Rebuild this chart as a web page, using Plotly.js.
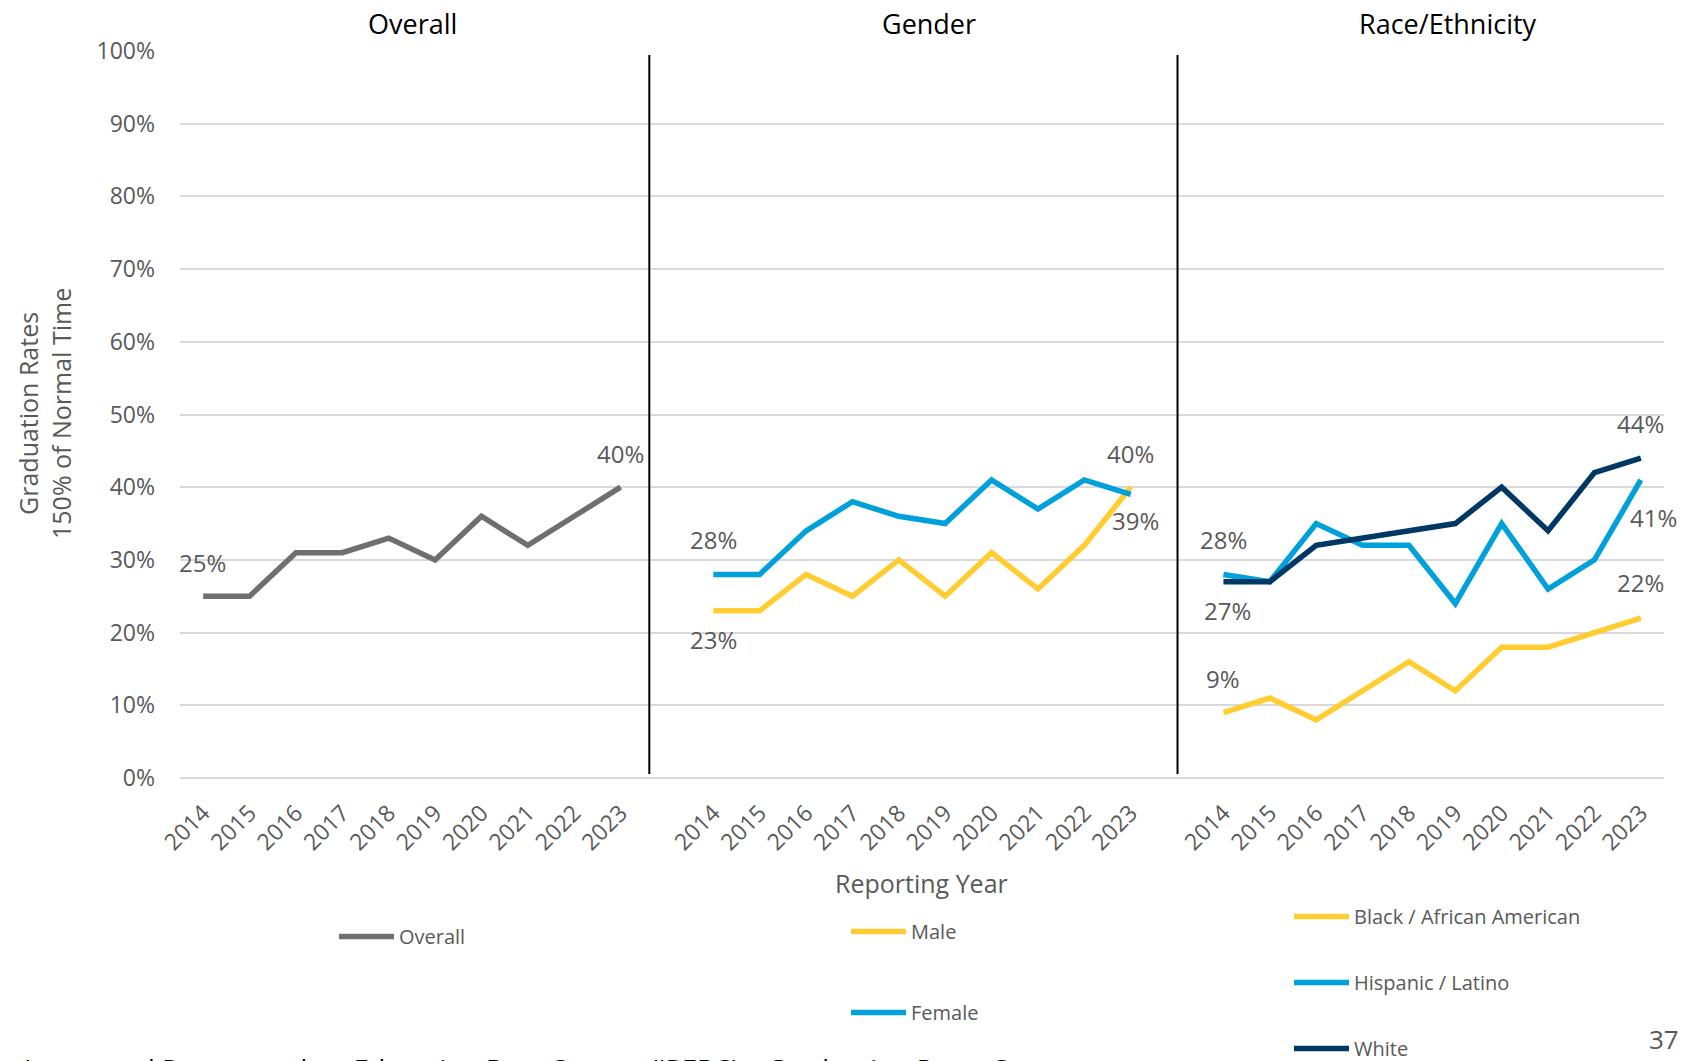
<!DOCTYPE html>
<html><head><meta charset="utf-8">
<script src="https://cdn.plot.ly/plotly-3.0.1.min.js"></script>
<style>html,body{margin:0;padding:0;background:#fff;} #chart{width:1683px;height:1061px;}</style>
</head><body><div id="chart"></div>
<script>
// ---- data ----
const years = [2014, 2015, 2016, 2017, 2018, 2019, 2020, 2021, 2022, 2023];
const overall  = [25, 25, 31, 31, 33, 30, 36, 32, 36, 40];
const male     = [23, 23, 28, 25, 30, 25, 31, 26, 32, 40];
const female   = [28, 28, 34, 38, 36, 35, 41, 37, 41, 39];
const black    = [9, 11, 8, 12, 16, 12, 18, 18, 20, 22];
const hispanic = [28, 27, 35, 32, 32, 24, 35, 26, 30, 41];
const white    = [27, 27, 32, 33, 34, 35, 40, 34, 42, 44];
const panelTitles = ['Overall', 'Gender', 'Race/Ethnicity'];
const yTickVals = [0, 10, 20, 30, 40, 50, 60, 70, 80, 90, 100];
const yTickText = yTickVals.map(v => v + '%');

// ---- layout helpers ----
const W = 1683, H = 1061;
const L = 180, R = 1664, T = 51, B = 778;
const px2x = p => (p - L) / (R - L);
const px2y = p => (B - p) / (B - T);
const offsets = [0, 11, 22];
const xs = k => years.map((y, i) => offsets[k] + (y - years[0]));

const GREY = '#6f6f6f', YEL = '#ffcd32', BLUE = '#00a1da', NAVY = '#003865';
const TXT = '#595959';
const FONT = 'Open Sans, Noto Sans, sans-serif';

function tr(k, vals, name, color, legend) {
  return {x: xs(k), y: vals, type: 'scatter', mode: 'lines', name: name,
    line: {color: color, width: 5.5}, legend: legend, legendgroup: name, hoverinfo: 'skip'};
}
const traces = [
  tr(0, overall, 'Overall', GREY, 'legend'),
  tr(1, male, 'Male', YEL, 'legend2'),
  tr(1, female, 'Female', BLUE, 'legend2'),
  tr(2, black, 'Black / African American', YEL, 'legend3'),
  tr(2, hispanic, 'Hispanic / Latino', BLUE, 'legend3'),
  tr(2, white, 'White', NAVY, 'legend3')
];

const tickvals = [].concat(xs(0), xs(1), xs(2));
const ticktext = [].concat(years, years, years).map(String);

function lab(k, vals, idx, dy, dx) {
  return {x: xs(k)[idx], y: vals[idx], xref: 'x', yref: 'y', text: vals[idx] + '%',
    showarrow: false, yshift: dy, xshift: dx || 0, xanchor: 'center', yanchor: 'middle',
    font: {family: FONT, size: 24, color: TXT}};
}
const annotations = [
  lab(0, overall, 0, 34, -1), lab(0, overall, 9, 34),
  lab(1, female, 0, 35), lab(1, male, 0, -29), lab(1, male, 9, 34), lab(1, female, 9, -26, 5),
  lab(2, hispanic, 0, 35), lab(2, white, 0, -29, 4), lab(2, black, 0, 34),
  lab(2, white, 9, 35), lab(2, hispanic, 9, -38, 13), lab(2, black, 9, 36)
];
const titleX = [412, 929, 1448];
panelTitles.forEach((t, i) => annotations.push({
  x: px2x(titleX[i]), y: px2y(24), xref: 'paper', yref: 'paper', text: t, showarrow: false,
  xanchor: 'center', yanchor: 'middle', font: {family: FONT, size: 27, color: '#000'}}));
annotations.push({x: px2x(921), y: px2y(883), xref: 'paper', yref: 'paper', text: 'Reporting Year',
  showarrow: false, xanchor: 'center', yanchor: 'middle', font: {family: FONT, size: 25, color: TXT}});
annotations.push({x: px2x(44), y: px2y(414), xref: 'paper', yref: 'paper',
  text: 'Graduation Rates<br>150% of Normal Time', textangle: -90, showarrow: false,
  xanchor: 'center', yanchor: 'middle', font: {family: FONT, size: 25, color: TXT}});
annotations.push({x: px2x(22), y: px2y(1049), xref: 'paper', yref: 'paper',
  text: 'Integrated Postsecondary Education Data System (IPEDS) \u2013 Graduation Rates Survey',
  showarrow: false, xanchor: 'left', yanchor: 'top', font: {family: FONT, size: 27, color: '#000'}});
annotations.push({x: px2x(1681), y: px2y(1039), xref: 'paper', yref: 'paper', text: '37',
  showarrow: false, xanchor: 'right', yanchor: 'middle', font: {family: FONT, size: 26, color: TXT}});

const sepX = [9.62, 21.01];
const shapes = sepX.map(v => ({type: 'line', xref: 'x', yref: 'paper', x0: v, x1: v,
  y0: px2y(774), y1: px2y(55), line: {color: '#000', width: 2}}));

function leg(xp, yp, gap) {
  return {x: xp / W, y: 1 - yp / H, xref: 'container', yref: 'container',
    xanchor: 'left', yanchor: 'top', orientation: 'v',
    bgcolor: 'rgba(0,0,0,0)', borderwidth: 0, traceorder: 'grouped', tracegroupgap: gap,
    itemwidth: 55, font: {family: FONT, size: 20, color: TXT}};
}

const layout = {
  width: W, height: H,
  margin: {l: L, r: W - R, t: T, b: H - B, pad: 0, autoexpand: false},
  paper_bgcolor: '#fff', plot_bgcolor: '#fff',
  showlegend: true,
  xaxis: {range: [-0.5, 31.5], tickmode: 'array', tickvals: tickvals, ticktext: ticktext,
    tickangle: -45, showgrid: false, zeroline: false, showline: false, ticks: '',
    ticklabelstandoff: 16, automargin: false,
    tickfont: {family: FONT, size: 23, color: TXT}, fixedrange: true},
  yaxis: {range: [0, 100], tickmode: 'array', tickvals: yTickVals, ticktext: yTickText,
    showgrid: true, gridcolor: '#d9d9d9', gridwidth: 2, zeroline: true, zerolinecolor: '#d9d9d9',
    zerolinewidth: 2, showline: false, ticks: '', ticklabelstandoff: 24, automargin: false,
    tickfont: {family: FONT, size: 23, color: TXT}, fixedrange: true},
  legend: leg(334, 917, 10),
  legend2: leg(846, 912, 52),
  legend3: leg(1289, 897, 37),
  annotations: annotations,
  shapes: shapes
};
Plotly.newPlot('chart', traces, layout, {staticPlot: true, displayModeBar: false});
</script></body></html>
